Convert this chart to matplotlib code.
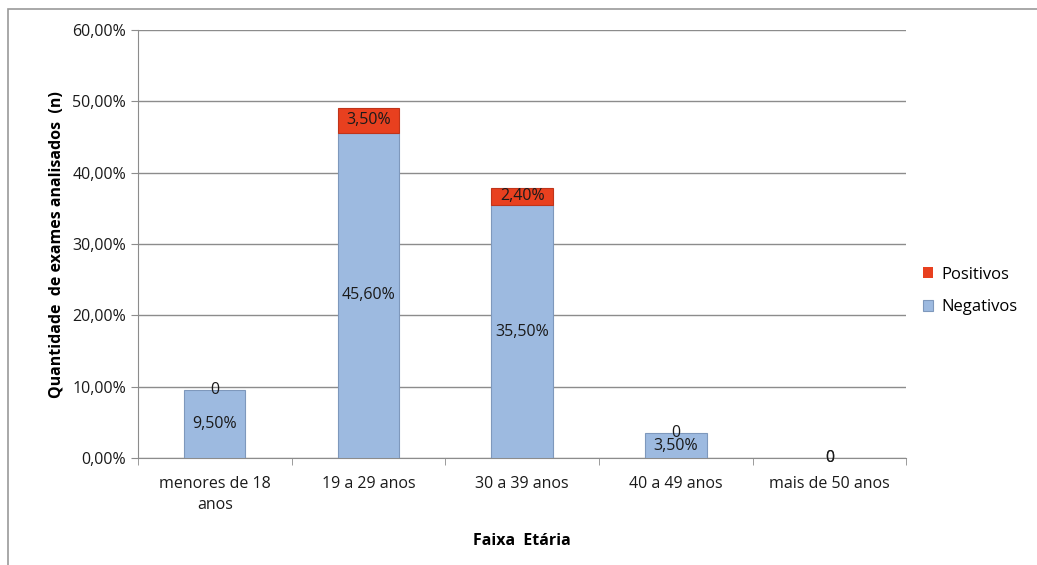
import numpy as np
import matplotlib.pyplot as plt
from matplotlib.patches import Rectangle

faixas = ['menores de 18\nanos', '19 a 29 anos', '30 a 39 anos', '40 a 49 anos', 'mais de 50 anos']
negativos = [9.5, 45.6, 35.5, 3.5, 0.0]
positivos = [0.0, 3.5, 2.4, 0.0, 0.0]

cor_neg = '#9DBAE0'
cor_pos = '#E8401F'
cinza = '#8C8C8C'

plt.rcParams['font.family'] = ['Open Sans', 'DejaVu Sans']


def rotulo(v):
    if v == 0:
        return '0'
    return ('%.2f%%' % v).replace('.', ',')


fig = plt.figure(figsize=(10.37, 5.65), dpi=100)
ax = fig.add_axes([0.133, 0.189, 0.741, 0.758])

x = np.arange(len(faixas))
b1 = ax.bar(x, negativos, 0.4, color=cor_neg, edgecolor='#7E98BC',
            linewidth=[0.8 if v > 0 else 0 for v in negativos], label='Negativos', zorder=3)
b2 = ax.bar(x, positivos, 0.4, bottom=negativos, color=cor_pos, edgecolor='#C0341A',
            linewidth=[0.8 if v > 0 else 0 for v in positivos], label='Positivos', zorder=3)

for i in range(len(faixas)):
    ax.text(x[i], negativos[i] / 2, rotulo(negativos[i]), ha='center', va='center',
            fontsize=11.5, color='#1a1a1a', zorder=5)
    ax.text(x[i], negativos[i] + positivos[i] / 2, rotulo(positivos[i]), ha='center',
            va='center', fontsize=11.5, color='#1a1a1a', zorder=5)

ax.set_xlim(-0.5, len(faixas) - 0.5)
ax.set_ylim(0, 60)
ax.set_yticks(np.arange(0, 61, 10))
ax.set_yticklabels([('%.2f%%' % v).replace('.', ',') for v in np.arange(0, 61, 10)])
ax.set_xticks(x)
ax.set_xticklabels(faixas, linespacing=1.4)
ax.set_xticks(np.arange(-0.5, len(faixas), 1), minor=True)
ax.tick_params(axis='x', which='major', length=0, pad=13, labelsize=11.5, labelcolor='#1a1a1a')
ax.tick_params(axis='x', which='minor', length=5, color=cinza)
ax.tick_params(axis='y', length=5, color=cinza, labelsize=11.5, labelcolor='#1a1a1a')
ax.grid(axis='y', color=cinza, linewidth=1, zorder=0)
for s in ['top', 'right']:
    ax.spines[s].set_visible(False)
for s in ['left', 'bottom']:
    ax.spines[s].set_color(cinza)

ax.set_ylabel('Quantidade  de exames analisados  (n)', fontsize=11.5, fontweight='bold',
              labelpad=6)
ax.set_xlabel('Faixa  Etária', fontsize=11.5, fontweight='bold', labelpad=14)

h, l = ax.get_legend_handles_labels()
fig.legend(h[::-1], l[::-1], loc='center left', bbox_to_anchor=(0.876, 0.485),
           frameon=False, fontsize=12, handlelength=0.6, handleheight=0.6,
           handletextpad=0.5, labelspacing=1.0)

fig.patches.append(Rectangle((0.0077, -0.1), 1.1, 1.084, transform=fig.transFigure,
                             fill=False, edgecolor='#9A9A9A', linewidth=1.2))

fig.savefig('out.png', dpi=100)
